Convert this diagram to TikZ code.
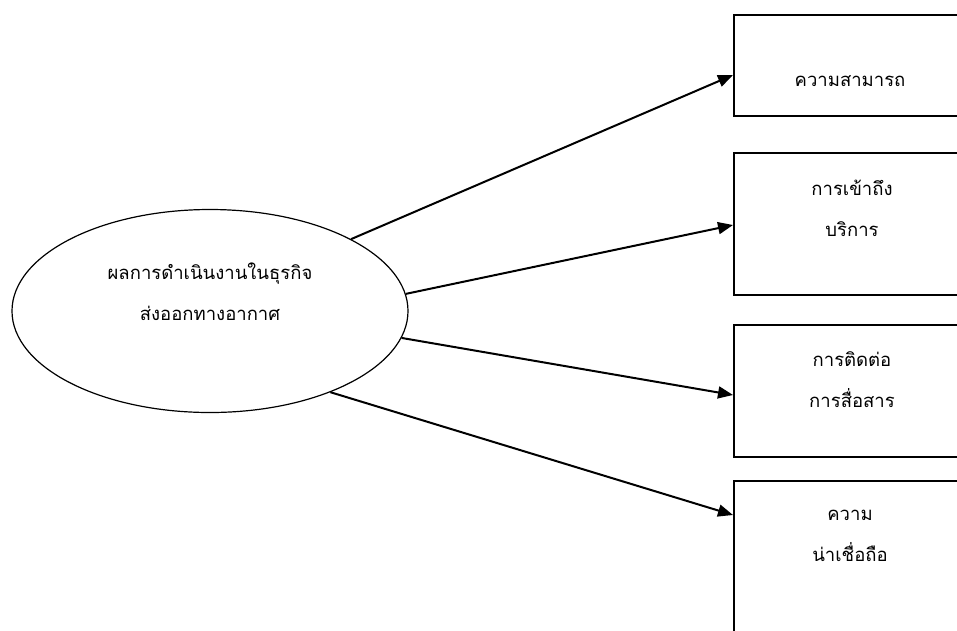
\documentclass[tikz,border=0pt]{standalone}
\usepackage{fontspec}
\newfontfamily\thaifont[Script=Thai]{Loma}
\usetikzlibrary{arrows.meta,shapes.geometric,calc}
\tikzset{
  factor/.style={draw, line width=1.5pt, rectangle, minimum width=234pt,
    inner sep=0pt, anchor=north west},
  label text/.style={font=\thaifont\fontsize{18.5}{41}\selectfont, align=center},
  link/.style={line width=2pt, -{Triangle[length=15pt, width=12pt]}}
}
\begin{document}
\begin{tikzpicture}[x=1pt, y=-1pt]
  % Fix the page to the reference size; the boxes run past the edges.
  \clip (0, 0) rectangle (957, 630);
  \fill[white] (0, 0) rectangle (957, 630);
  % The performance ellipse on the left.
  \node[draw, ellipse, line width=1.2pt, minimum width=396pt,
    minimum height=203pt, label text] (perf) at (210, 311) {};
  \node[label text] at (210, 292)
    {ผลการดำเนินงานในธุรกิจ\\ส่งออกทางอากาศ};
  % The four factor boxes on the right.
  \node[factor, minimum height=101pt] (ability) at (733, 14) {};
  \node[factor, minimum height=142pt] (access) at (733, 152) {};
  \node[factor, minimum height=132pt] (contact) at (733, 324) {};
  \node[factor, minimum height=160pt] (trust) at (733, 480) {};
  % Texts inside the boxes.
  \node[label text] at (850, 81) {ความสามารถ};
  \node[label text] at (852, 208) {การเข้าถึง\\บริการ};
  \node[label text] at (852, 380) {การติดต่อ\\การสื่อสาร};
  \node[label text] at (850, 536) {ความ\\น่าเชื่อถือ};
  % Arrows from the ellipse to the boxes.
  \draw[link] (perf.27.6) -- ($(ability.north west)+(0, 61)$);
  \draw[link] (perf.5.6) -- ($(access.north west)+(0, 73)$);
  \draw[link] (perf.-8) -- ($(contact.north west)+(0, 71)$);
  \draw[link] (perf.-34) -- ($(trust.north west)+(0, 35)$);
\end{tikzpicture}
\end{document}
